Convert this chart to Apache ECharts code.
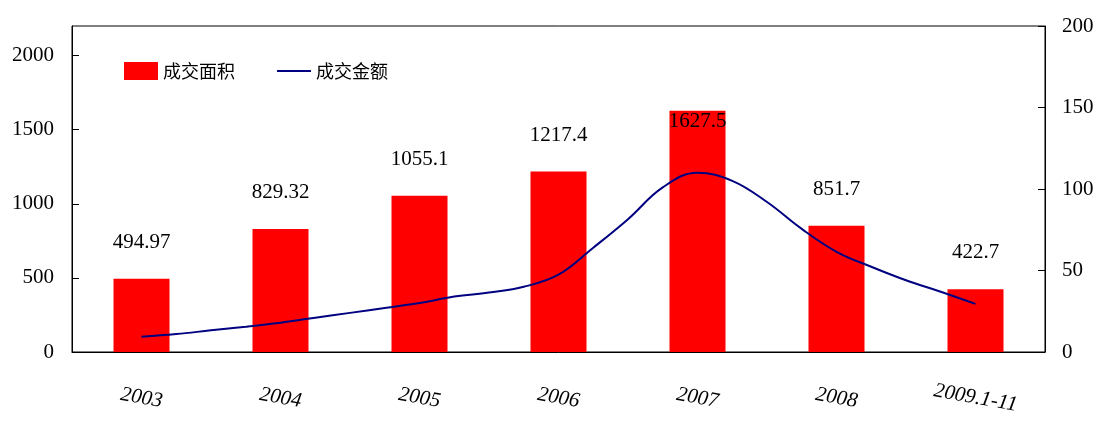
<!DOCTYPE html>
<html>
<head>
<meta charset="utf-8">
<script src="https://cdn.jsdelivr.net/npm/echarts@6/dist/echarts.min.js"></script>
<style>
  html, body { margin: 0; padding: 0; background: #fff; }
  #chart { width: 1099px; height: 426px; }
</style>
</head>
<body>
<div id="chart"></div>
<script>
// Years shown on the category axis
const years = ['2003', '2004', '2005', '2006', '2007', '2008', '2009.1-11'];
// 成交面积 (left axis)
const areaValues = [494.97, 829.32, 1055.1, 1217.4, 1627.5, 851.7, 422.7];
// 成交金额 (right axis), quarterly readings from 2003 to 2009
const quarters = [
  '2002Q3', '2002Q4',
  '2003Q1', '2003Q2', '2003Q3', '2003Q4',
  '2004Q1', '2004Q2', '2004Q3', '2004Q4',
  '2005Q1', '2005Q2', '2005Q3', '2005Q4',
  '2006Q1', '2006Q2', '2006Q3', '2006Q4',
  '2007Q1', '2007Q2', '2007Q3', '2007Q4',
  '2008Q1', '2008Q2', '2008Q3', '2008Q4',
  '2009Q1', '2009Q2', '2009Q3'
];
const amountValues = [
  null, null,
  9.4, 11, 13.3, 15.5,
  18, 21, 24, 27,
  30, 34, 36.5, 40,
  47.4, 64, 81.5, 101,
  110, 105, 92, 75.5,
  61.5, 52.3, 44, 37,
  29.5, null, null
];
// Tick labels
const leftTicks = [0, 500, 1000, 1500, 2000];
const rightTicks = [0, 50, 100, 150, 200];

const serif = 'Liberation Serif';
const cjk = 'Noto Sans CJK SC';
const navy = '#000080';
const peak = Math.max(...areaValues);

const barData = areaValues.map(v => {
  const item = { value: v };
  if (v === peak) {
    item.label = { position: 'insideTop', distance: 0 };
  }
  return item;
});

const chart = echarts.init(document.getElementById('chart'), null, { renderer: 'canvas' });
chart.setOption({
  animation: false,
  backgroundColor: '#fff',
  grid: {
    left: 72, right: 54, top: 26, bottom: 74,
    show: true, borderColor: '#000', borderWidth: 1, backgroundColor: 'transparent'
  },
  legend: {
    left: 124, top: 62, padding: 0,
    itemWidth: 34, itemHeight: 18, itemGap: 42,
    symbolKeepAspect: true,
    textStyle: { fontFamily: cjk, fontSize: 18, color: '#000' },
    data: [
      { name: '成交面积', icon: 'rect' },
      { name: '成交金额', icon: 'path://M0,0H34V2H0Z', itemStyle: { color: navy } }
    ]
  },
  xAxis: [
    {
      type: 'category',
      data: years,
      boundaryGap: true,
      axisLine: { lineStyle: { color: '#000', width: 1 } },
      axisTick: { inside: true, length: 7, lineStyle: { color: '#000' } },
      axisLabel: {
        rotate: -10, align: 'center', margin: 46,
        fontFamily: serif, fontStyle: 'italic', fontSize: 21, color: '#000'
      },
      splitLine: { show: false }
    },
    {
      type: 'category',
      data: quarters,
      boundaryGap: false,
      show: false
    }
  ],
  yAxis: [
    {
      type: 'value',
      min: 0, max: 2200, interval: 500,
      axisLine: { show: true, lineStyle: { color: '#000', width: 1 } },
      axisTick: { show: true, inside: true, length: 7, customValues: leftTicks, lineStyle: { color: '#000' } },
      axisLabel: {
        customValues: leftTicks, margin: 18, formatter: v => String(v),
        fontFamily: serif, fontSize: 21, color: '#000'
      },
      splitLine: { show: false }
    },
    {
      type: 'value',
      min: 0, max: 200, interval: 50,
      position: 'right',
      axisLine: { show: true, lineStyle: { color: '#000', width: 1 } },
      axisTick: { show: true, inside: true, length: 7, customValues: rightTicks, lineStyle: { color: '#000' } },
      axisLabel: {
        customValues: rightTicks, margin: 17, formatter: v => String(v),
        fontFamily: serif, fontSize: 21, color: '#000'
      },
      splitLine: { show: false }
    }
  ],
  series: [
    {
      name: '成交面积',
      type: 'bar',
      xAxisIndex: 0,
      yAxisIndex: 0,
      barWidth: 56,
      itemStyle: { color: '#FF0000' },
      label: {
        show: true, position: 'top', distance: 26,
        fontFamily: serif, fontSize: 21, color: '#000'
      },
      data: barData
    },
    {
      name: '成交金额',
      type: 'line',
      xAxisIndex: 1,
      yAxisIndex: 1,
      smooth: 0.4,
      showSymbol: false,
      symbol: 'none',
      lineStyle: { color: navy, width: 2 },
      itemStyle: { color: navy },
      data: amountValues
    }
  ]
});
</script>
</body>
</html>
